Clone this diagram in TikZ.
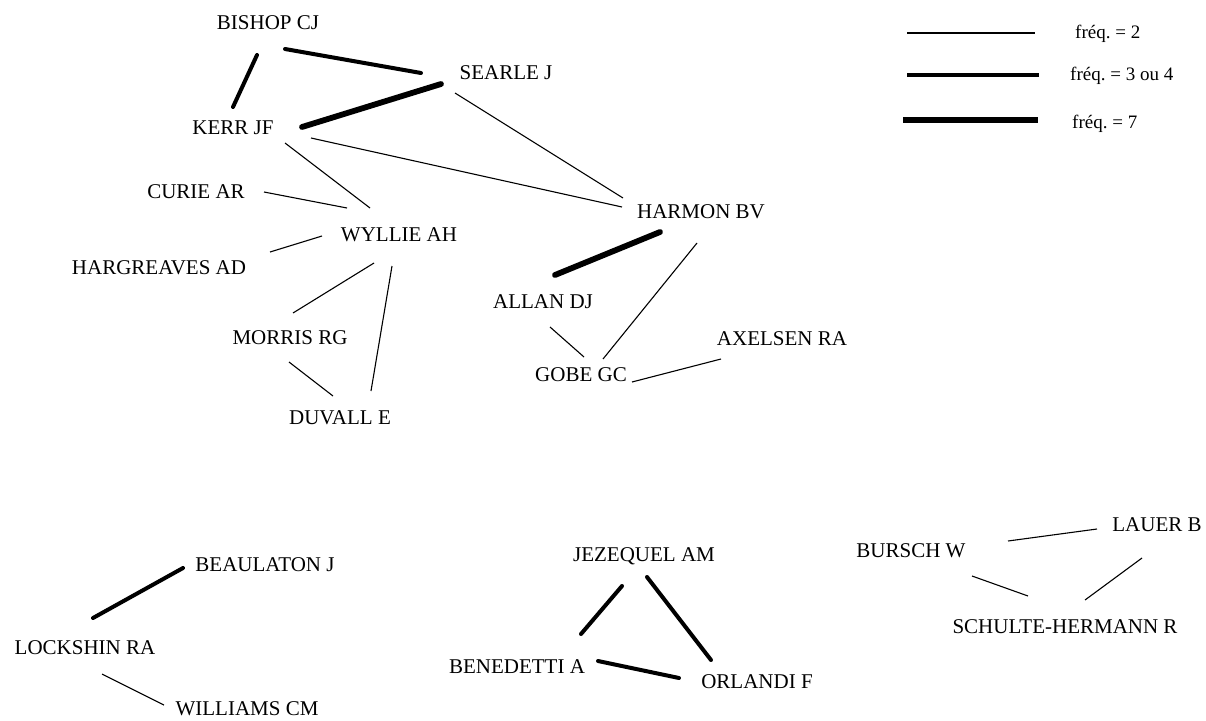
\documentclass[tikz,border=0pt]{standalone}
\usepackage{fontspec}
\setmainfont{Liberation Serif}
\usetikzlibrary{calc}
\frenchspacing

\begin{document}
\begin{tikzpicture}[x=1pt, y=-1pt,
    author/.style={font=\fontsize{21}{25}\selectfont, inner sep=0pt, text height=13.8pt, text depth=0pt},
    legendtext/.style={font=\fontsize{19}{23}\selectfont, inner sep=0pt, anchor=base west},
    freqtwo/.style={line width=1.1pt},
    freqfour/.style={line width=4pt, line cap=round},
    freqseven/.style={line width=5.8pt, line cap=round}]

    \useasboundingbox (0,0) rectangle (1206,720);

    % Authors, upper group
    \node[author] (bishop) at (268,23) {BISHOP CJ};
    \node[author] (searle) at (506,73) {SEARLE J};
    \node[author] (kerr) at (233,128) {KERR JF};
    \node[author] (curie) at (196,192) {CURIE AR};
    \node[author] (wyllie) at (399,235) {WYLLIE AH};
    \node[author] (hargreaves) at (159,268) {HARGREAVES AD};
    \node[author] (morris) at (290,338) {MORRIS RG};
    \node[author] (duvall) at (340,418) {DUVALL E};
    \node[author] (harmon) at (701,212) {HARMON BV};
    \node[author] (allan) at (543,302) {ALLAN DJ};
    \node[author] (gobe) at (581,375) {GOBE GC};
    \node[author] (axelsen) at (782,339) {AXELSEN RA};

    % Authors, lower groups
    \node[author] (beaulaton) at (265,565) {BEAULATON J};
    \node[author] (lockshin) at (85,648) {LOCKSHIN RA};
    \node[author] (williams) at (247,709) {WILLIAMS CM};
    \node[author] (jezequel) at (644,555) {JEZEQUEL AM};
    \node[author] (benedetti) at (517,667) {BENEDETTI A};
    \node[author] (orlandi) at (757,682) {ORLANDI F};
    \node[author] (bursch) at (911,551) {BURSCH W};
    \node[author] (lauer) at (1157,525) {LAUER B};
    \node[author] (schulte) at (1065,627) {SCHULTE-HERMANN R};

    % Links, upper group
    \draw[freqfour] ($(bishop)+(-11,32)$) -- ($(kerr)+(0,-21)$);
    \draw[freqfour] ($(bishop)+(17,26)$) -- ($(searle)+(-85,0)$);
    \draw[freqseven] ($(kerr)+(69,-1)$) -- ($(searle)+(-65,11)$);
    \draw[freqtwo] ($(kerr)+(78,10)$) -- ($(harmon)+(-79,-5)$);
    \draw[freqtwo] ($(kerr)+(52,15)$) -- ($(wyllie)+(-29,-27)$);
    \draw[freqtwo] ($(searle)+(-51,20)$) -- ($(harmon)+(-78,-14)$);
    \draw[freqtwo] ($(curie)+(68,0)$) -- ($(wyllie)+(-52,-27)$);
    \draw[freqtwo] ($(hargreaves)+(111,-16)$) -- ($(wyllie)+(-77,1)$);
    \draw[freqtwo] ($(wyllie)+(-25,28)$) -- ($(morris)+(3,-25)$);
    \draw[freqtwo] ($(wyllie)+(-7,31)$) -- ($(duvall)+(31,-27)$);
    \draw[freqtwo] ($(morris)+(-1,24)$) -- ($(duvall)+(-7,-22)$);
    \draw[freqseven] ($(harmon)+(-41,20)$) -- ($(allan)+(12,-27)$);
    \draw[freqtwo] ($(harmon)+(-4,31)$) -- ($(gobe)+(22,-16)$);
    \draw[freqtwo] ($(allan)+(7,25)$) -- ($(gobe)+(3,-18)$);
    \draw[freqtwo] ($(gobe)+(51,7)$) -- ($(axelsen)+(-61,20)$);

    % Links, lower groups
    \draw[freqfour] ($(beaulaton)+(-82,3)$) -- ($(lockshin)+(8,-30)$);
    \draw[freqtwo] ($(lockshin)+(17,26)$) -- ($(williams)+(-83,-4)$);
    \draw[freqfour] ($(jezequel)+(-22,31)$) -- ($(benedetti)+(64,-33)$);
    \draw[freqfour] ($(jezequel)+(3,22)$) -- ($(orlandi)+(-46,-22)$);
    \draw[freqfour] ($(benedetti)+(81,-6)$) -- ($(orlandi)+(-78,-4)$);
    \draw[freqtwo] ($(bursch)+(97,-10)$) -- ($(lauer)+(-60,4)$);
    \draw[freqtwo] ($(bursch)+(61,25)$) -- ($(schulte)+(-37,-31)$);
    \draw[freqtwo] ($(lauer)+(-15,33)$) -- ($(schulte)+(20,-27)$);

    % Legend
    \node[legendtext] (keytwo) at (1075,38) {fréq. = 2};
    \node[legendtext] (keyfour) at (1070,80) {fréq. = 3 ou 4};
    \node[legendtext] (keyseven) at (1072,128) {fréq. = 7};
    \coordinate (twoa) at (907,33);
    \coordinate (twob) at (1035,33);
    \coordinate (foura) at (907,75);
    \coordinate (fourb) at (1039,75);
    \coordinate (sevena) at (903,120);
    \coordinate (sevenb) at (1038,120);
    \draw[freqtwo] (twoa) -- (twob);
    \draw[line width=3.6pt] (foura) -- (fourb);
    \draw[line width=5.5pt] (sevena) -- (sevenb);

\end{tikzpicture}
\end{document}
